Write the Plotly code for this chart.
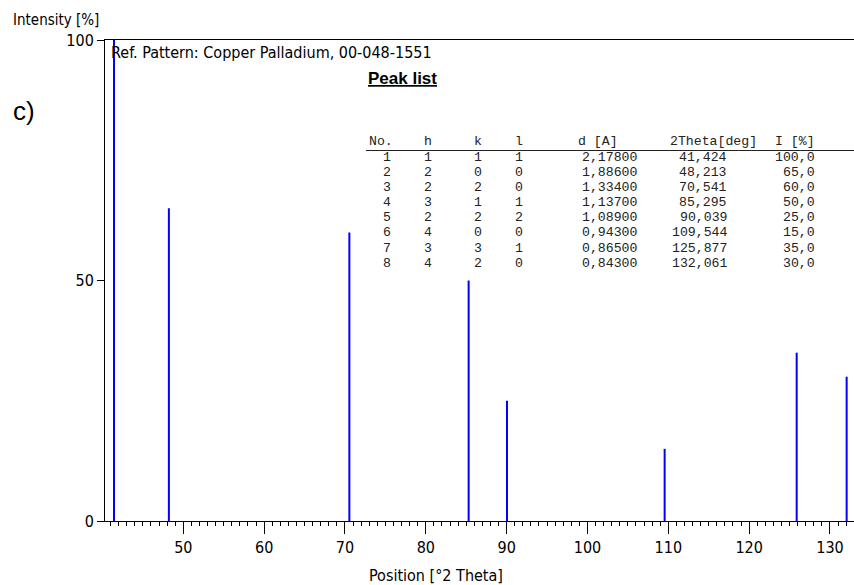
import plotly.graph_objects as go

# ---- data ----
peak_no = [1, 2, 3, 4, 5, 6, 7, 8]
h_idx = [1, 2, 2, 3, 2, 4, 3, 4]
k_idx = [1, 0, 2, 1, 2, 0, 3, 2]
l_idx = [1, 0, 0, 1, 2, 0, 1, 0]
d_spacing = [2.178, 1.886, 1.334, 1.137, 1.089, 0.943, 0.865, 0.843]
two_theta = [41.424, 48.213, 70.541, 85.295, 90.039, 109.544, 125.877, 132.061]
intensity = [100.0, 65.0, 60.0, 50.0, 25.0, 15.0, 35.0, 30.0]

x_ticks = [50, 60, 70, 80, 90, 100, 110, 120, 130]
y_ticks = [0, 50, 100]
headers = ["No.", "h", "k", "l", "d [A]", "2Theta[deg]", "I [%]"]

W, H = 854, 585
ML, MR, MT, MB = 105, 0, 40, 64
PW, PH = W - ML - MR, H - MT - MB


def px_x(p):
    return (p - ML) / PW


def px_y(p):
    return (H - MB - p) / PH


def comma(v, n):
    return f"{v:.{n}f}".replace(".", ",")


# stick lines
xs, ys = [], []
for t, i in zip(two_theta, intensity):
    xs += [t, t, None]
    ys += [0, i, None]

fig = go.Figure()
fig.add_trace(go.Scatter(x=xs, y=ys, mode="lines",
                         line=dict(color="#0000ff", width=2),
                         hoverinfo="skip", showlegend=False))

AX_FONT = dict(family="DejaVu Sans Condensed, Liberation Sans Narrow, Arial Narrow, sans-serif",
               size=16, color="#000")
MONO = dict(family="Liberation Mono, Courier New, monospace", size=13.2, color="#222")

ann = []
ann.append(dict(text="Intensity [%]", x=px_x(11), y=px_y(20), xanchor="left", yanchor="middle",
                font=dict(AX_FONT, size=15)))
ann.append(dict(text="Position [°2 Theta]", x=px_x(436), y=px_y(575), xanchor="center",
                yanchor="middle", font=AX_FONT))
ann.append(dict(text="Ref. Pattern: Copper Palladium, 00-048-1551", x=px_x(109), y=px_y(53),
                xanchor="left", yanchor="middle", font=AX_FONT))
ann.append(dict(text="c)", x=px_x(11), y=px_y(111), xanchor="left", yanchor="middle",
                font=dict(family="Liberation Sans, Arial, sans-serif", size=26, color="#000")))
ann.append(dict(text="<b><span style='text-decoration:underline'>Peak list</span></b>",
                x=px_x(366), y=px_y(79), xanchor="left", yanchor="middle",
                font=dict(family="Liberation Sans, Arial, sans-serif", size=17, color="#000")))

# header
hdr_pos = [(367, "left"), (434, "right"), (484, "right"), (525, "right"),
           (576, "left"), (668, "left"), (817, "right")]
for txt, (px, anc) in zip(headers, hdr_pos):
    ann.append(dict(text=txt, x=px_x(px), y=px_y(141), xanchor=anc, yanchor="middle", font=MONO))

col_right = [393, 434, 484, 525, 639, 729, 817]
for r in range(len(peak_no)):
    yy = 157 + 15.2 * r
    cells = [str(peak_no[r]), str(h_idx[r]), str(k_idx[r]), str(l_idx[r]),
             comma(d_spacing[r], 5), comma(two_theta[r], 3), comma(intensity[r], 1)]
    for c, txt in enumerate(cells):
        ann.append(dict(text=txt, x=px_x(col_right[c]), y=px_y(yy), xanchor="right",
                        yanchor="middle", font=MONO))

for a in ann:
    a.update(xref="paper", yref="paper", showarrow=False)

fig.update_layout(
    width=W, height=H,
    margin=dict(l=ML, r=MR, t=MT, b=MB, pad=0),
    paper_bgcolor="white", plot_bgcolor="white",
    annotations=ann,
    shapes=[dict(type="line", xref="paper", yref="paper",
                 x0=px_x(366), x1=px_x(854), y0=px_y(150.5), y1=px_y(150.5),
                 line=dict(color="#222", width=1))],
    xaxis=dict(range=[40.31, 132.97], tickvals=x_ticks, ticks="outside", ticklen=12,
               tickwidth=1, tickcolor="#000", showline=True, linecolor="#000", linewidth=1,
               mirror=True, showgrid=False, zeroline=False, tickfont=AX_FONT,
               minor=dict(dtick=1, tick0=0, ticks="outside", ticklen=4, tickcolor="#000",
                          tickwidth=1, showgrid=False)),
    yaxis=dict(range=[0, 100], tickvals=y_ticks, ticks="outside", ticklen=7, tickwidth=1,
               tickcolor="#000", showline=True, linecolor="#000", linewidth=1,
               showgrid=False, zeroline=False, tickfont=AX_FONT),
)

fig.write_html("out.html")
